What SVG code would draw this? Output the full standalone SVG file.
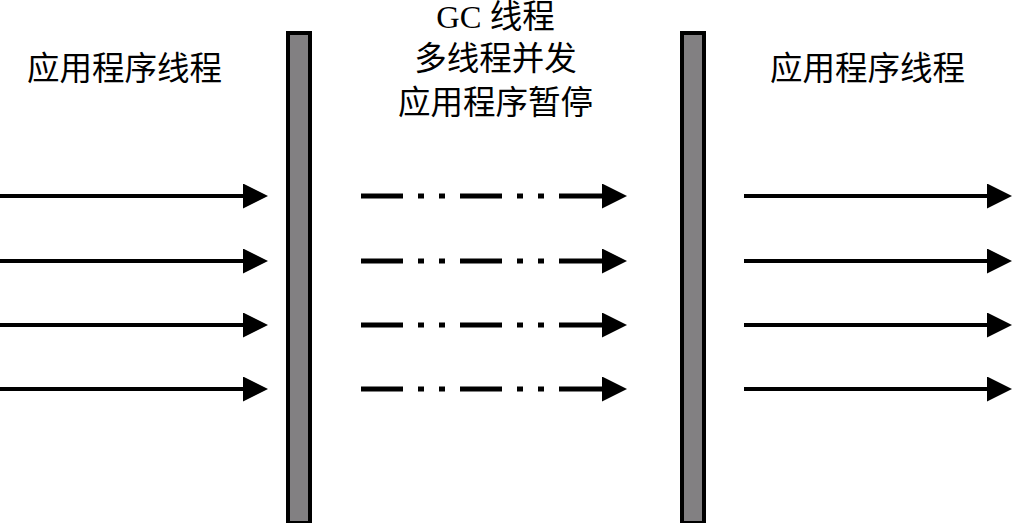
<svg xmlns="http://www.w3.org/2000/svg" width="1012" height="523" viewBox="0 0 1012 523">
<defs>
<marker id="ah" viewBox="0 0 25 25" refX="0" refY="12.5" markerWidth="25" markerHeight="25" markerUnits="userSpaceOnUse" orient="auto">
<path d="M0,0 L25,12.5 L0,25 Z" fill="#000"/>
</marker>
<style>
.t{font-family:"Liberation Serif","Noto Sans CJK SC",serif;font-size:32.5px;fill:#000;text-anchor:middle}
.bar{fill:#828082;stroke:#000;stroke-width:4}
.s{stroke:#000;stroke-width:4;fill:none;marker-end:url(#ah)}
.d{stroke:#000;stroke-width:5;fill:none;stroke-dasharray:42 15 6 15 6 15}
.h{stroke:#000;stroke-width:5;fill:none;marker-end:url(#ah)}
</style>
</defs>
<rect width="1012" height="523" fill="#fff"/>
<g id="label-left"><text class="t" x="124.5" y="80">应用程序线程</text></g>
<g id="label-right"><text class="t" x="867.5" y="80">应用程序线程</text></g>
<g id="label-center">
<text class="t" x="495.5" y="28">GC 线程</text>
<text class="t" x="495.5" y="70">多线程并发</text>
<text class="t" x="495.5" y="114">应用程序暂停</text>
</g>
<g id="bar-left"><rect class="bar" x="288" y="33" width="22" height="490"/></g>
<g id="bar-right"><rect class="bar" x="682" y="33" width="22" height="490"/></g>
<g id="connectors">
<line class="s" x1="0" y1="196" x2="243" y2="196"/>
<line class="s" x1="0" y1="261" x2="243" y2="261"/>
<line class="s" x1="0" y1="325" x2="243" y2="325"/>
<line class="s" x1="0" y1="389" x2="243" y2="389"/>
<line class="d" x1="361" y1="196" x2="559" y2="196"/>
<line class="h" x1="559" y1="196" x2="602" y2="196"/>
<line class="d" x1="361" y1="261" x2="559" y2="261"/>
<line class="h" x1="559" y1="261" x2="602" y2="261"/>
<line class="d" x1="361" y1="325" x2="559" y2="325"/>
<line class="h" x1="559" y1="325" x2="602" y2="325"/>
<line class="d" x1="361" y1="389" x2="559" y2="389"/>
<line class="h" x1="559" y1="389" x2="602" y2="389"/>
<line class="s" x1="744" y1="196" x2="987" y2="196"/>
<line class="s" x1="744" y1="261" x2="987" y2="261"/>
<line class="s" x1="744" y1="325" x2="987" y2="325"/>
<line class="s" x1="744" y1="389" x2="987" y2="389"/>
</g>
</svg>
